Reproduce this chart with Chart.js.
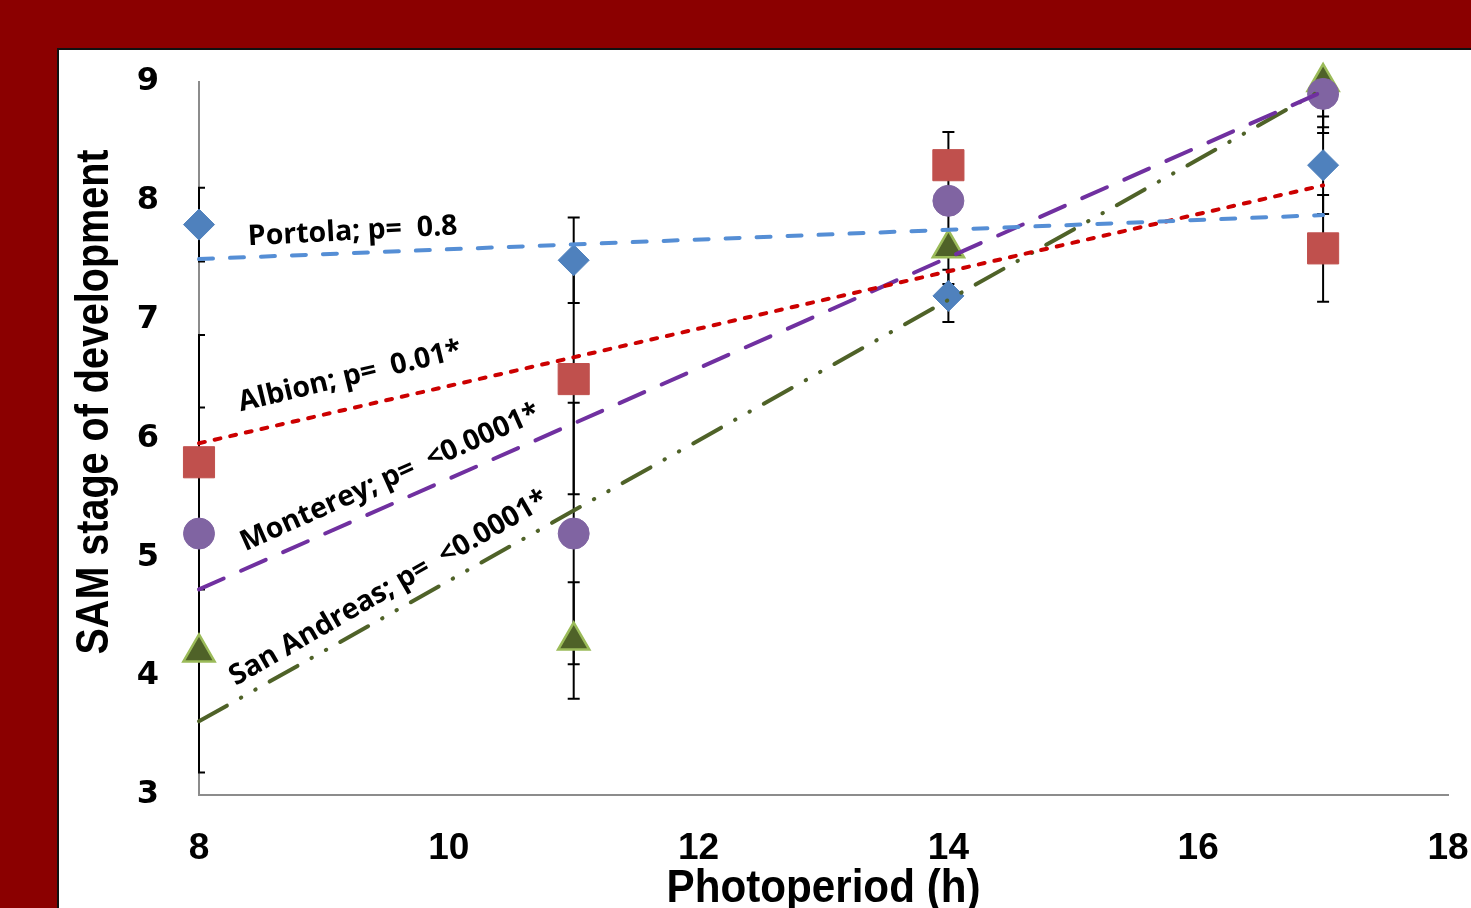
<!DOCTYPE html>
<html>
<head>
<meta charset="utf-8">
<script src="https://cdn.jsdelivr.net/npm/chart.js@4.4.1/dist/chart.umd.min.js"></script>
<style>
html,body{margin:0;padding:0;background:#8B0000;overflow:hidden}
#wrap{position:relative;width:1471px;height:908px}
canvas{display:block}
</style>
</head>
<body>
<div id="wrap"><canvas id="c" width="1471" height="908"></canvas></div>
<script>
// ---- data ----
const photoperiod = [8, 11, 14, 17];
const portola = [7.8, 7.5, 7.2, 8.3];
const albion = [5.8, 6.5, 8.3, 7.6];
const monterey = [5.2, 5.2, 8.0, 8.9];
const sanAndreas = [4.2, 4.3, 7.6, 9.0];

const portolaErr = [0.31, 0.36, 0.22, 0.41];
const albionErr = [1.07, 0.97, 0.28, 0.45];
const montereyErr = [1.06, 1.10, 0.10, 0.28];
const sanAndreasErr = [1.01, 0.49, 0.30, 0.43];

const trendX = [8, 17];
const portolaTrend = [7.51, 7.88];
const albionTrend = [5.96, 8.13];
const montereyTrend = [4.73, 8.92];
const sanAndreasTrend = [3.62, 8.94];

const xTicks = [8, 10, 12, 14, 16, 18];
const yTicks = [3, 4, 5, 6, 7, 8, 9];

const seriesNames = ["Portola", "Albion", "Monterey", "San Andreas"];
const annotationText = ["Portola; p=  0.8", "Albion; p=  0.01*", "Monterey; p=  <0.0001*", "San Andreas; p=  <0.0001*"];
const annotationX = [9.23, 9.21, 9.53, 9.52];
const annotationY = [7.74, 6.52, 5.67, 4.74];
const annotationAngle = [-3, -13.5, -24, -30];

const xTitle = "Photoperiod (h)";
const yTitle = "SAM stage of development";

// ---- styling ----
const sansFamily = '"Liberation Sans", Arial, sans-serif';
const pts = (ys) => photoperiod.map((x, i) => ({x: x, y: ys[i]}));
const trend = (ys) => trendX.map((x, i) => ({x: x, y: ys[i]}));

const errorSeries = [
  {values: portola, err: portolaErr},
  {values: albion, err: albionErr},
  {values: monterey, err: montereyErr},
  {values: sanAndreas, err: sanAndreasErr}
];

const panelPlugin = {
  id: 'panel',
  beforeDraw(chart) {
    const ctx = chart.ctx;
    ctx.save();
    ctx.fillStyle = '#8B0000';
    ctx.fillRect(0, 0, chart.width, chart.height);
    ctx.fillStyle = '#ffffff';
    ctx.fillRect(58, 49, chart.width - 58, chart.height - 49);
    ctx.strokeStyle = '#111111';
    ctx.lineWidth = 2;
    ctx.beginPath();
    ctx.moveTo(58, chart.height);
    ctx.lineTo(58, 49);
    ctx.lineTo(chart.width, 49);
    ctx.stroke();
    ctx.restore();
  }
};

const errorBarsPlugin = {
  id: 'errorBars',
  beforeDatasetsDraw(chart) {
    const {ctx, chartArea: a, scales: {x, y}} = chart;
    ctx.save();
    ctx.beginPath();
    ctx.rect(a.left - 1, a.top, a.right - a.left + 2, a.bottom - a.top);
    ctx.clip();
    ctx.strokeStyle = '#000000';
    ctx.lineWidth = 2;
    errorSeries.forEach(s => {
      s.values.forEach((v, i) => {
        const px = x.getPixelForValue(photoperiod[i]);
        const top = y.getPixelForValue(v + s.err[i]);
        const bot = y.getPixelForValue(v - s.err[i]);
        ctx.beginPath();
        ctx.moveTo(px, top); ctx.lineTo(px, bot);
        ctx.moveTo(px - 6, top); ctx.lineTo(px + 6, top);
        ctx.moveTo(px - 6, bot); ctx.lineTo(px + 6, bot);
        ctx.stroke();
      });
    });
    ctx.restore();
  }
};

const annotationsPlugin = {
  id: 'annotations',
  afterDatasetsDraw(chart) {
    const {ctx, scales: {x, y}} = chart;
    ctx.save();
    ctx.fillStyle = '#000000';
    ctx.font = 'bold 28.5px "Open Sans", "DejaVu Sans", sans-serif';
    ctx.textAlign = 'center';
    ctx.textBaseline = 'middle';
    annotationText.forEach((t, i) => {
      ctx.save();
      ctx.translate(x.getPixelForValue(annotationX[i]), y.getPixelForValue(annotationY[i]));
      ctx.rotate(annotationAngle[i] * Math.PI / 180);
      ctx.fillText(t, 0, 0);
      ctx.restore();
    });
    ctx.restore();
  }
};

function condensedText(ctx, text, cx, cy, targetWidth) {
  const w = ctx.measureText(text).width;
  const k = Math.min(1, targetWidth / w);
  ctx.save();
  ctx.translate(cx, cy);
  ctx.scale(k, 1);
  ctx.fillText(text, 0, 0);
  ctx.restore();
}

const titlesPlugin = {
  id: 'titles',
  afterDraw(chart) {
    const ctx = chart.ctx;
    const a = chart.chartArea;
    ctx.save();
    ctx.fillStyle = '#000000';
    ctx.font = 'bold 46px ' + sansFamily;
    ctx.textAlign = 'center';
    ctx.textBaseline = 'middle';
    condensedText(ctx, xTitle, (a.left + a.right) / 2, 889, 314);
    ctx.translate(95, 402);
    ctx.rotate(-Math.PI / 2);
    condensedText(ctx, yTitle, 0, 0, 505);
    ctx.restore();
  }
};

const datasets = [
  {label: seriesNames[0], data: pts(portola), pointStyle: 'rectRot', pointRadius: 15.5,
   backgroundColor: '#4F81BD', borderColor: '#4F81BD', borderWidth: 1, showLine: false, order: 3, clip: false},
  {label: seriesNames[1], data: pts(albion), pointStyle: 'rect', pointRadius: 22,
   backgroundColor: '#C0504D', borderColor: '#C0504D', borderWidth: 1, showLine: false, order: 3, clip: false},
  {label: seriesNames[2], data: pts(monterey), pointStyle: 'circle', pointRadius: 15.5,
   backgroundColor: '#8064A2', borderColor: '#8064A2', borderWidth: 1, showLine: false, order: 3, clip: false},
  {label: seriesNames[3], data: pts(sanAndreas), pointStyle: 'triangle', pointRadius: 18,
   backgroundColor: '#4F6228', borderColor: '#9BBB59', borderWidth: 2.5, showLine: false, order: 4, clip: false},
  {label: seriesNames[0] + ' trend', data: trend(portolaTrend), showLine: true, pointRadius: 0,
   borderColor: '#558ED5', borderWidth: 4, borderDash: [14, 17], borderCapStyle: 'round', order: 1, clip: false},
  {label: seriesNames[1] + ' trend', data: trend(albionTrend), showLine: true, pointRadius: 0,
   borderColor: '#CC0000', borderWidth: 4, borderDash: [6, 10], borderCapStyle: 'round', order: 1, clip: false},
  {label: seriesNames[2] + ' trend', data: trend(montereyTrend), showLine: true, pointRadius: 0,
   borderColor: '#7030A0', borderWidth: 4, borderDash: [27, 19], borderCapStyle: 'round', order: 1, clip: false},
  {label: seriesNames[3] + ' trend', data: trend(sanAndreasTrend), showLine: true, pointRadius: 0,
   borderColor: '#4F6228', borderWidth: 4, borderDash: [32, 16, 0.5, 16, 0.5, 16], borderCapStyle: 'round', order: 1, clip: false}
];

new Chart(document.getElementById('c'), {
  type: 'scatter',
  data: {datasets: datasets},
  options: {
    responsive: false,
    animation: false,
    devicePixelRatio: 1,
    layout: {padding: {top: 82, right: 17, bottom: 0, left: 1}},
    plugins: {legend: {display: false}, tooltip: {enabled: false}},
    scales: {
      x: {
        type: 'linear', min: 8, max: 18,
        afterBuildTicks: (s) => { s.ticks = xTicks.map(v => ({value: v})); },
        afterFit: (s) => { s.height = 113; s.paddingLeft = 0; s.paddingRight = 0; },
        grid: {display: false, drawTicks: false},
        border: {display: true, color: '#8C8C8C', width: 2},
        ticks: {padding: 32, color: '#000000', maxRotation: 0, autoSkip: false,
                font: {family: sansFamily, size: 37, weight: 'bold'}}
      },
      y: {
        type: 'linear', min: 3, max: 9,
        afterBuildTicks: (s) => { s.ticks = yTicks.map(v => ({value: v})); },
        afterFit: (s) => { s.width = 198; s.paddingTop = 0; s.paddingBottom = 0; },
        grid: {display: false, drawTicks: false},
        border: {display: true, color: '#8C8C8C', width: 2},
        ticks: {padding: 40, color: '#000000', autoSkip: false,
                font: {family: '"DejaVu Sans", Verdana, sans-serif', size: 32, weight: 'bold'}}
      }
    }
  },
  plugins: [panelPlugin, errorBarsPlugin, annotationsPlugin, titlesPlugin]
});
</script>
</body>
</html>
